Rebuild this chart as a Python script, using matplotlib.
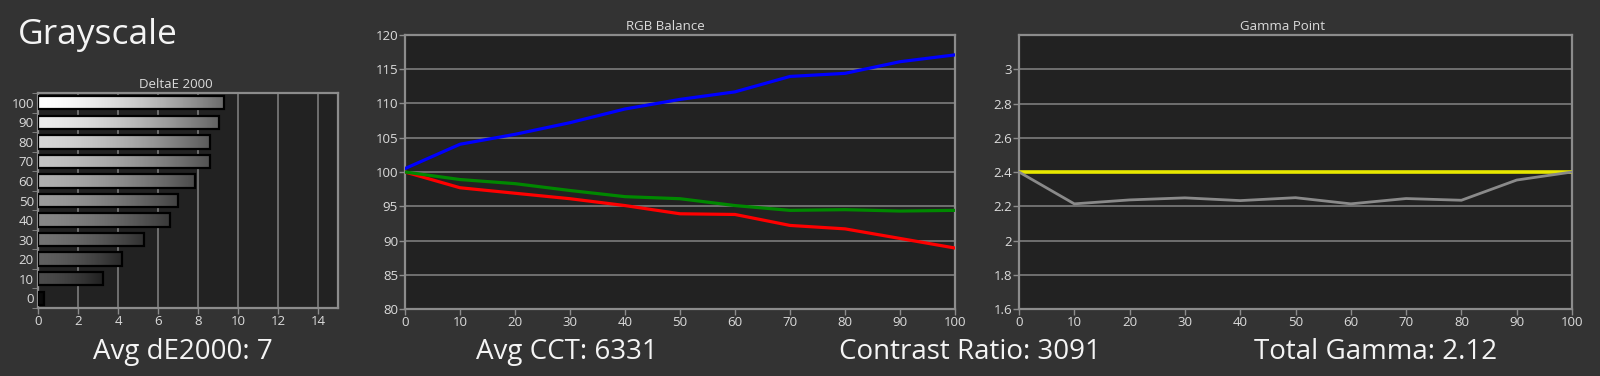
import numpy as np
import matplotlib.pyplot as plt

plt.rcParams['font.family'] = ['Open Sans', 'DejaVu Sans']

# data
levels = [0, 10, 20, 30, 40, 50, 60, 70, 80, 90, 100]
delta_e = [0.28, 3.25, 4.18, 5.29, 6.6, 7.02, 7.86, 8.58, 8.58, 9.05, 9.28]

steps = [0, 10, 20, 30, 40, 50, 60, 70, 80, 90, 100]
red = [100, 97.7, 96.9, 96.1, 95.1, 93.9, 93.8, 92.2, 91.7, 90.3, 88.9]
green = [100, 98.9, 98.3, 97.3, 96.4, 96.1, 95.1, 94.4, 94.5, 94.3, 94.4]
blue = [100.5, 104.05, 105.5, 107.2, 109.2, 110.6, 111.7, 113.95, 114.4, 116.1, 117.1]

gamma = [2.40, 2.214, 2.237, 2.249, 2.233, 2.25, 2.214, 2.245, 2.235, 2.353, 2.40]
gamma_target = 2.4

summary = ['Avg dE2000: 7', 'Avg CCT: 6331', 'Contrast Ratio: 3091', 'Total Gamma: 2.12']

BG = '#333333'
FACE = '#222222'
GRID = '#707070'
SPINE = '#8c8c8c'
TXT = '#dcdcdc'

W, H = 1600, 376
fig = plt.figure(figsize=(W / 100, H / 100), dpi=100, facecolor=BG)


def px_axes(x0, y0, x1, y1):
    return fig.add_axes([x0 / W, 1 - y1 / H, (x1 - x0) / W, (y1 - y0) / H])


def style(ax):
    ax.set_facecolor(FACE)
    for s in ax.spines.values():
        s.set_color(SPINE)
        s.set_linewidth(1.6)
    ax.tick_params(colors=SPINE, labelcolor=TXT, labelsize=9.5, length=4,
                   width=1, pad=1)


# --- DeltaE bars
ax1 = px_axes(38, 93, 338, 308)
style(ax1)
ax1.set_xticks(range(0, 15, 2))
ax1.set_yticks(range(len(levels)))
ax1.set_yticklabels([str(l) for l in levels])
ax1.set_yticks(np.arange(-0.5, len(levels), 1), minor=True)
ax1.tick_params(axis='y', which='major', length=0, pad=3)
ax1.tick_params(axis='y', which='minor', length=4, color=SPINE)
ax1.grid(axis='x', color=GRID, lw=1.4)
ax1.set_axisbelow(True)

t = np.linspace(0, 1, 200)
for i, (lv, v) in enumerate(zip(levels, delta_e)):
    left = 0.22 + 0.78 * lv / 100 if lv > 0 else 0.05
    right = left * 0.42
    col = left - (left - right) * t ** 1.6
    img = np.repeat(col[None, :, None], 3, axis=2)
    h = 0.68
    ax1.imshow(img, extent=[0, v, i - h / 2, i + h / 2], aspect='auto',
               zorder=3, interpolation='bilinear')
ax1.barh(range(len(levels)), delta_e, height=0.68, facecolor='none',
         edgecolor='black', lw=1.6, zorder=4)
ax1.set_xlim(0, 15)
ax1.set_ylim(-0.5, len(levels) - 0.5)

# --- RGB balance
ax2 = px_axes(405, 35, 955, 309)
style(ax2)
ax2.plot(steps, red, color='#ff0000', lw=2.3, zorder=3)
ax2.plot(steps, green, color='#008800', lw=2.3, zorder=3)
ax2.plot(steps, blue, color='#0000ff', lw=2.3, zorder=3)
ax2.set_xlim(0, 100)
ax2.set_ylim(80, 120)
ax2.set_xticks(steps)
ax2.set_yticks(range(80, 121, 5))
ax2.grid(axis='y', color=GRID, lw=1.4)

# --- Gamma
ax3 = px_axes(1019, 35, 1572, 309)
style(ax3)
ax3.axhline(gamma_target, color='#e8e800', lw=2.6, zorder=3)
ax3.plot(steps, gamma, color='#8a8a8a', lw=2.0, zorder=4)
ax3.set_xlim(0, 100)
ax3.set_ylim(1.6, 3.2)
ax3.set_xticks(steps)
ax3.set_yticks(np.arange(1.6, 3.01, 0.2))
ax3.set_yticklabels(['1.6', '1.8', '2', '2.2', '2.4', '2.6', '2.8', '3'])
ax3.grid(axis='y', color=GRID, lw=1.4)

# titles
fig.text(18 / W, 1 - 35 / H, 'Grayscale', color='#f4f4f4', fontsize=25.5,
         va='center', ha='left')
fig.text(176 / W, 1 - 85 / H, 'DeltaE 2000', color=TXT, fontsize=9.5,
         ha='center', va='center')
fig.text(665 / W, 1 - 26 / H, 'RGB Balance', color=TXT, fontsize=9.5,
         ha='center', va='center')
fig.text(1283 / W, 1 - 26 / H, 'Gamma Point', color=TXT, fontsize=9.5,
         ha='center', va='center')

for xc, s in zip([183, 567, 970, 1376], summary):
    fig.text(xc / W, 1 - 352 / H, s, color='#f4f4f4', fontsize=20,
             ha='center', va='center')

fig.savefig('out.png', dpi=100, facecolor=BG)
